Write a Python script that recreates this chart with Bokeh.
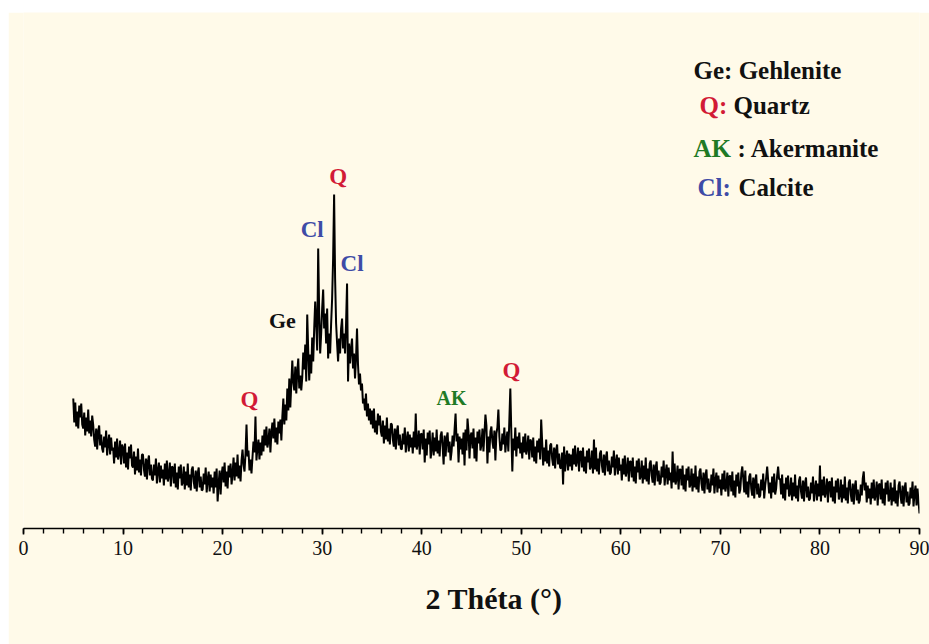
from bokeh.plotting import figure
from bokeh.models import Range1d, SingleIntervalTicker, Title, Spacer, ColumnDataSource
from bokeh.layouts import column, row
from bokeh.core.properties import value
from bokeh.embed import file_html
from bokeh.resources import INLINE

# ---------------- data (2-theta grid: 5.0 .. 90.0, step 0.1 deg; intensity a.u.) ----------------
two_theta_start = 5.0
two_theta_step = 0.1

intensity_05_20 = [
    130, 106, 126, 102, 117, 100, 123, 111, 125, 104,
    100, 116, 93, 111, 97, 119, 95, 108, 92, 113,
    104, 89, 82, 100, 79, 97, 103, 83, 94, 80,
    76, 92, 81, 98, 73, 86, 94, 74, 91, 78,
    81, 65, 87, 71, 90, 69, 75, 88, 64, 84,
    81, 65, 85, 61, 76, 59, 82, 70, 84, 63,
    61, 77, 54, 72, 58, 80, 56, 69, 53, 74,
    74, 59, 52, 70, 49, 67, 73, 53, 64, 50,
    48, 64, 53, 70, 45, 58, 66, 46, 63, 50,
    59, 43, 65, 49, 68, 47, 53, 66, 42, 62,
    61, 45, 65, 41, 56, 39, 62, 50, 64, 43,
    46, 62, 39, 57, 43, 65, 41, 54, 38, 59,
    62, 47, 40, 58, 37, 55, 61, 41, 52, 38,
    39, 55, 44, 61, 36, 49, 57, 37, 54, 41,
    51, 35, 57, 41, 60, 27, 45, 58, 34, 54,
]
intensity_20_35 = [
    62, 46, 66, 42, 57, 40, 63, 51, 65, 44,
    55, 71, 48, 66, 52, 74, 50, 63, 47, 68,
    79, 64, 57, 75, 104, 72, 78, 58, 69, 55,
    71, 87, 76, 112, 68, 81, 89, 69, 86, 73,
    93, 77, 99, 83, 102, 81, 87, 100, 76, 96,
    106, 90, 110, 86, 101, 84, 107, 95, 109, 88,
    112, 130, 104, 124, 108, 140, 118, 150, 121, 145,
    168, 146, 138, 162, 135, 157, 170, 140, 153, 138,
    151, 176, 159, 184, 147, 214, 178, 148, 174, 155,
    191, 167, 200, 227, 205, 178, 280, 216, 175, 195,
    220, 239, 200, 215, 185, 220, 170, 195, 175, 205,
    230, 270, 334, 250, 205, 185, 167, 190, 175, 200,
    210, 180, 195, 175, 205, 245, 147, 185, 165, 180,
    190, 160, 175, 150, 170, 200, 164, 144, 155, 138,
    145, 125, 130, 118, 135, 112, 125, 108, 120, 104,
]
intensity_35_50 = [
    118, 100, 120, 96, 108, 94, 115, 103, 113, 97,
    92, 108, 85, 103, 89, 111, 87, 100, 84, 105,
    104, 89, 82, 100, 79, 97, 103, 83, 94, 80,
    79, 95, 84, 101, 76, 89, 97, 77, 94, 81,
    91, 75, 97, 81, 115, 79, 85, 98, 74, 94,
    95, 79, 99, 66, 90, 73, 96, 84, 98, 70,
    80, 96, 73, 91, 77, 99, 75, 88, 72, 93,
    97, 82, 64, 93, 72, 90, 96, 76, 87, 68,
    77, 93, 82, 99, 115, 87, 95, 66, 92, 79,
    90, 74, 96, 63, 99, 78, 110, 97, 70, 93,
    96, 80, 100, 70, 91, 67, 97, 85, 99, 78,
    84, 100, 77, 95, 114, 103, 65, 92, 76, 97,
    102, 87, 80, 98, 68, 95, 101, 119, 92, 78,
    79, 95, 84, 101, 76, 89, 97, 77, 108, 140,
    96, 57, 90, 78, 101, 72, 92, 80, 96, 75,
]
intensity_50_65 = [
    86, 70, 92, 76, 95, 74, 80, 93, 69, 89,
    87, 71, 91, 67, 82, 65, 88, 76, 90, 69,
    109, 86, 63, 81, 67, 89, 65, 78, 62, 83,
    85, 70, 63, 81, 60, 78, 84, 64, 75, 61,
    60, 76, 44, 82, 57, 70, 78, 58, 75, 62,
    74, 58, 80, 64, 83, 62, 68, 81, 57, 77,
    77, 61, 81, 57, 72, 55, 78, 66, 80, 59,
    62, 78, 55, 89, 59, 81, 57, 70, 54, 75,
    78, 63, 56, 74, 53, 71, 77, 57, 68, 54,
    56, 72, 61, 78, 53, 66, 74, 54, 71, 58,
    64, 48, 70, 54, 73, 52, 58, 71, 47, 67,
    67, 51, 71, 47, 62, 45, 68, 56, 70, 49,
    52, 68, 45, 63, 49, 71, 47, 60, 44, 65,
    68, 53, 46, 64, 43, 61, 67, 47, 58, 44,
    46, 62, 51, 68, 43, 56, 64, 44, 61, 48,
]
intensity_65_80 = [
    56, 40, 77, 46, 65, 44, 50, 63, 39, 59,
    59, 43, 63, 39, 54, 37, 60, 48, 62, 41,
    44, 60, 37, 55, 41, 63, 39, 52, 36, 57,
    60, 45, 38, 56, 35, 53, 59, 39, 50, 36,
    38, 54, 43, 60, 35, 48, 56, 36, 53, 40,
    49, 33, 55, 39, 58, 37, 43, 56, 32, 52,
    53, 37, 57, 33, 48, 31, 54, 42, 56, 35,
    39, 55, 62, 50, 36, 58, 34, 47, 31, 52,
    55, 40, 33, 51, 30, 48, 54, 34, 45, 31,
    33, 49, 38, 55, 30, 43, 51, 62, 48, 35,
    46, 30, 52, 36, 55, 34, 40, 53, 62, 49,
    50, 34, 54, 30, 45, 28, 51, 39, 53, 32,
    35, 51, 28, 46, 32, 54, 30, 43, 27, 48,
    52, 37, 30, 48, 27, 45, 51, 31, 42, 28,
    30, 46, 35, 52, 27, 40, 48, 28, 45, 32,
]
intensity_80_90 = [
    63, 27, 49, 33, 52, 31, 37, 50, 26, 46,
    47, 31, 51, 27, 42, 25, 48, 36, 50, 29,
    33, 49, 26, 44, 30, 52, 28, 41, 25, 46,
    49, 34, 27, 45, 24, 42, 48, 28, 39, 25,
    28, 44, 33, 50, 57, 38, 46, 26, 43, 30,
    40, 24, 46, 30, 49, 28, 34, 47, 23, 43,
    45, 29, 49, 25, 40, 23, 46, 34, 48, 27,
    30, 46, 23, 41, 27, 49, 25, 38, 22, 43,
    47, 32, 25, 43, 22, 40, 46, 26, 37, 23,
    25, 41, 30, 47, 22, 35, 43, 23, 40, 27,
    15,
]

intensity = (intensity_05_20 + intensity_20_35 + intensity_35_50
             + intensity_50_65 + intensity_65_80 + intensity_80_90)
two_theta = [round(two_theta_start + i * two_theta_step, 1) for i in range(len(intensity))]

x_ticks_major = 10
x_ticks_minor_per_major = 5

# peak annotations (phase label, 2-theta, intensity position)
peak_labels = ["Q", "Ge", "Cl", "Q", "Cl", "AK", "Q"]
peak_label_x = [22.7, 26.0, 29.0, 31.6, 33.0, 43.0, 49.0]
peak_label_y = [129, 208, 299, 352, 265, 131, 158]

RED = "#D21A36"
BLUE = "#3E4BA6"
GREEN = "#1F7A25"
BLACK = "#111111"
CREAM = "#FFFAE9"
SERIF = "'Liberation Serif', 'Times New Roman', Tinos, 'DejaVu Serif', serif"

label_colors = {"Q": RED, "Cl": BLUE, "Ge": BLACK, "AK": GREEN}
label_sizes = {"Q": "23px", "Cl": "23px", "Ge": "22px", "AK": "20px"}

# ---------------- figure ----------------
p = figure(width=921, height=632,
           x_range=Range1d(0, 90), y_range=Range1d(0, 516),
           output_backend="svg", toolbar_location=None,
           y_axis_location=None,
           min_border_left=15, min_border_right=10,
           min_border_top=0, min_border_bottom=116,
           background_fill_color=CREAM, border_fill_color=CREAM,
           outline_line_color=None)
p.grid.visible = False

p.line(two_theta, intensity, line_color="black", line_width=2.0)

src = ColumnDataSource(dict(
    x=peak_label_x, y=peak_label_y, text=peak_labels,
    color=[label_colors[t] for t in peak_labels],
    size=[label_sizes[t] for t in peak_labels],
))
p.text(x="x", y="y", text="text", source=src, text_color="color",
       text_font_size="size", text_font=value(SERIF),
       text_font_style="bold", text_align="center", text_baseline="middle")

# legend block (key text pieces)
def leg(x, y, txt, color):
    p.text(x=[x], y=[y], text=[txt], text_color=color, text_font=value(SERIF),
           text_font_size=value("25px"), text_font_style="bold",
           text_align="left", text_baseline="middle")

leg(67.30, 458, "Ge: Gehlenite", BLACK)
leg(67.90, 423, "Q:", RED)
leg(71.31, 423, "Quartz", BLACK)
leg(67.30, 380, "AK", GREEN)
leg(71.72, 380, ": Akermanite", BLACK)
leg(67.70, 341, "Cl:", BLUE)
leg(71.82, 341, "Calcite", BLACK)

# x axis
ax = p.xaxis[0]
ax.ticker = SingleIntervalTicker(interval=x_ticks_major, num_minor_ticks=x_ticks_minor_per_major)
ax.axis_line_color = "black"
ax.axis_line_width = 1.6
ax.major_tick_line_color = "black"
ax.major_tick_line_width = 1.6
ax.minor_tick_line_color = "black"
ax.minor_tick_line_width = 1.4
ax.major_tick_in = 0
ax.major_tick_out = 6
ax.minor_tick_in = 0
ax.minor_tick_out = 5
ax.major_label_text_font = SERIF
ax.major_label_text_font_size = "20px"
ax.major_label_text_color = "#111111"
ax.major_label_standoff = 6

# x-axis title (2 Théta), below the axis, shifted right like the original
t = Title(text="2 Théta (°)", align="left", offset=402, vertical_align="middle",
          text_font=SERIF, text_font_size="30px",
          text_font_style="bold", text_color="#111111", standoff=46)
p.add_layout(t, "below")

layout = column(Spacer(height=12), row(Spacer(width=8), p))
open("out.html", "w").write(file_html(layout, INLINE))
